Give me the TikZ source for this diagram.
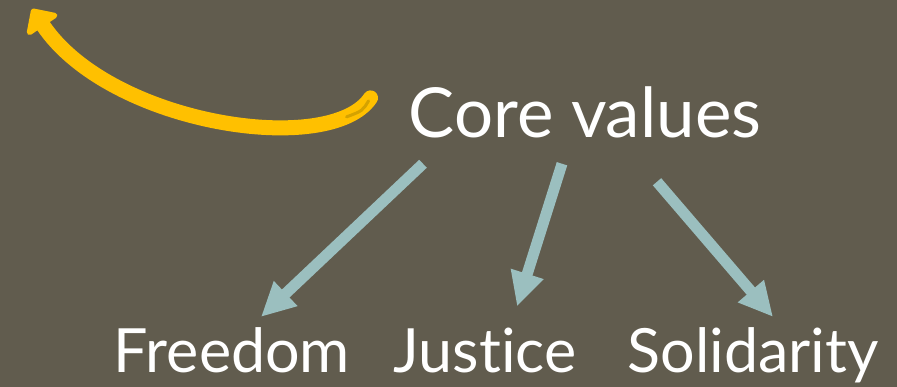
\documentclass[tikz,border=0pt]{standalone}
\usepackage{fontspec}
\setmainfont{Lato}[Ligatures={NoCommon}]
\usetikzlibrary{arrows.meta}
\definecolor{slidebg}{HTML}{615C4E}
\definecolor{valueblue}{HTML}{9BBFBF}
\definecolor{goldline}{HTML}{FFC000}
\definecolor{goldshade}{HTML}{D4A200}
\begin{document}
\begin{tikzpicture}[x=1pt,y=-1pt,
		value/.style={anchor=base,text=white,inner sep=0pt,font=\fontsize{61}{61}\selectfont},
		valuearrow/.style={draw=valueblue,line width=11pt,-{Triangle[width=32pt,length=34pt]}},
		backarrow/.style={draw=goldline,line width=15pt,line cap=round,-{Triangle[width=42pt,length=22pt,round]}}]
	\fill[slidebg] (0,0) rectangle (897,387);
	\node[value,font=\fontsize{69}{69}\selectfont] (core) at (585,138) {Core values};
	\node[value] (freedom) at (232,372) {Freedom};
	\node[value] (justice) at (485,372) {Justice};
	\node[value] (solidarity) at (753,372) {Solidarity};
	\draw[valuearrow] ([xshift=-162pt,yshift=-25pt]core.south) -- ([xshift=29pt,yshift=10pt]freedom.north);
	\draw[valuearrow] ([xshift=-23pt,yshift=-25pt]core.south) -- ([xshift=32pt,yshift=21pt]justice.north);
	\draw[valuearrow] ([xshift=72pt,yshift=-43pt]core.south) -- ([xshift=20pt,yshift=10pt]solidarity.north);
	% curved arrow back to the corner
	\coordinate (corner) at (32,9);
	\draw[backarrow] ([xshift=-38pt,yshift=15pt]core.west) .. controls +(-40,60) and (110,125) .. (corner);
	\draw[goldshade,line width=3pt,line cap=round] ([xshift=-40pt,yshift=12pt]core.west) .. controls +(-6,10) .. ([xshift=-62pt,yshift=-4pt]core.west);
\end{tikzpicture}
\end{document}
